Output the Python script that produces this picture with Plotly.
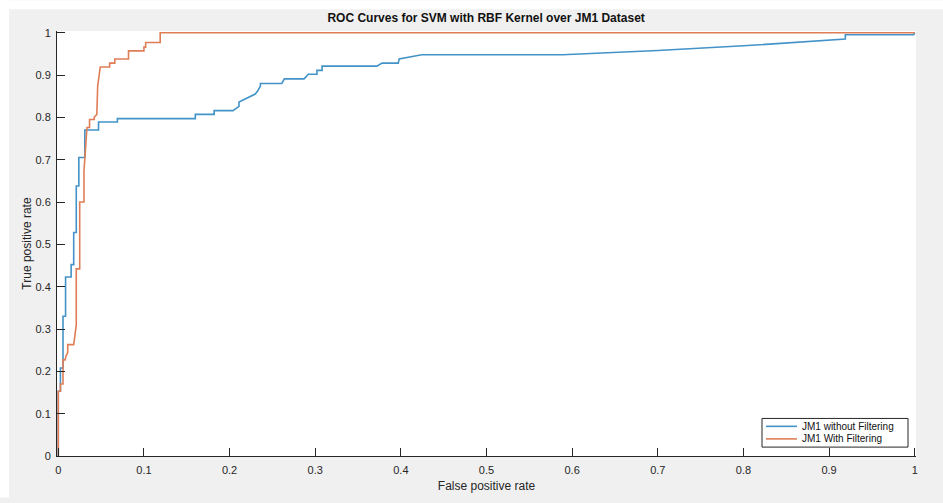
import plotly.graph_objects as go

# ROC curve of the SVM (RBF kernel) on JM1 without filtering
fpr_without = [0.0, 0.0, 0.0025, 0.0025, 0.0055, 0.0055, 0.0085, 0.0085, 0.015, 0.015,
               0.018, 0.018, 0.021, 0.021, 0.024, 0.024, 0.031, 0.031, 0.047, 0.047,
               0.069, 0.069, 0.160, 0.160, 0.182, 0.182, 0.204, 0.211, 0.211, 0.229,
               0.230, 0.233, 0.236, 0.236, 0.261, 0.264, 0.287, 0.292, 0.302, 0.302,
               0.308, 0.308, 0.372, 0.378, 0.397, 0.398, 0.4245, 0.589, 0.700, 0.800,
               0.919, 0.919, 0.9988, 1.0]
tpr_without = [0.0, 0.153, 0.153, 0.208, 0.208, 0.330, 0.330, 0.423, 0.423, 0.452,
               0.452, 0.528, 0.528, 0.638, 0.638, 0.705, 0.705, 0.770, 0.770, 0.789,
               0.789, 0.797, 0.797, 0.807, 0.807, 0.816, 0.816, 0.826, 0.836, 0.855,
               0.855, 0.863, 0.874, 0.880, 0.880, 0.891, 0.891, 0.902, 0.902, 0.911,
               0.911, 0.921, 0.921, 0.928, 0.928, 0.938, 0.948, 0.948, 0.958, 0.969,
               0.985, 0.995, 0.995, 1.0]

# ROC curve of the SVM (RBF kernel) on JM1 with filtering
fpr_with = [0.0, 0.0, 0.0025, 0.0025, 0.0055, 0.0055, 0.008, 0.009, 0.011, 0.011,
            0.018, 0.021, 0.021, 0.025, 0.025, 0.030, 0.030, 0.0325, 0.0335, 0.0335,
            0.0365, 0.0365, 0.042, 0.042, 0.045, 0.046, 0.049, 0.060, 0.060, 0.066,
            0.066, 0.082, 0.082, 0.100, 0.100, 0.102, 0.102, 0.119, 0.119, 1.0]
tpr_with = [0.0, 0.153, 0.153, 0.170, 0.170, 0.227, 0.227, 0.236, 0.245, 0.263,
            0.263, 0.309, 0.442, 0.442, 0.600, 0.600, 0.673, 0.758, 0.776, 0.776,
            0.776, 0.795, 0.795, 0.800, 0.807, 0.874, 0.919, 0.919, 0.928, 0.928,
            0.938, 0.938, 0.957, 0.957, 0.966, 0.966, 0.977, 0.977, 1.0, 1.0]

series_names = ["JM1 without Filtering", "JM1 With Filtering"]
series_colors = ["#4393c8", "#df7e56"]

tick_vals = [0, 0.1, 0.2, 0.3, 0.4, 0.5, 0.6, 0.7, 0.8, 0.9, 1]
tick_text = ["0", "0.1", "0.2", "0.3", "0.4", "0.5", "0.6", "0.7", "0.8", "0.9", "1"]

FONT = "Liberation Sans, Arial, sans-serif"
INK = "#262626"

# plot area in pixels (for placing the frame and the legend box)
W, H = 943, 503
L, R, T, B = 57, 27, 31, 42
PW, PH = W - L - R, H - T - B


def px_x(px):
    return (px - L) / PW


def px_y(py):
    return (H - B - py) / PH


fig = go.Figure()
for xs, ys, name, color in [(fpr_without, tpr_without, series_names[0], series_colors[0]),
                            (fpr_with, tpr_with, series_names[1], series_colors[1])]:
    fig.add_trace(go.Scatter(x=xs, y=ys, mode="lines", name=name,
                             line=dict(color=color, width=1.6), showlegend=False))

axis_common = dict(
    showgrid=False, zeroline=False, showline=True, linecolor=INK, linewidth=1,
    ticks="inside", ticklen=8, tickwidth=1, tickcolor=INK,
    tickvals=tick_vals, ticktext=tick_text,
    tickfont=dict(family=FONT, size=11, color=INK),
)

shapes = [
    # thin white frame around the grey figure window
    dict(type="rect", xref="paper", yref="paper", layer="above",
         x0=px_x(0), x1=px_x(9), y0=px_y(H), y1=px_y(0),
         fillcolor="white", line_width=0),
    dict(type="rect", xref="paper", yref="paper", layer="above",
         x0=px_x(0), x1=px_x(W), y0=px_y(9), y1=px_y(0),
         fillcolor="white", line_width=0),
    # legend box
    dict(type="rect", xref="paper", yref="paper", layer="above",
         x0=px_x(762), x1=px_x(908), y0=px_y(452), y1=px_y(423),
         fillcolor="white", line=dict(color=INK, width=1)),
]
annotations = []
for i, (name, color) in enumerate(zip(series_names, series_colors)):
    ly = 431 + i * 12.7
    shapes.append(dict(type="line", xref="paper", yref="paper", layer="above",
                       x0=px_x(766), x1=px_x(797), y0=px_y(ly), y1=px_y(ly),
                       line=dict(color=color, width=1.6)))
    annotations.append(dict(text=name, xref="paper", yref="paper",
                            x=px_x(800), y=px_y(ly), xanchor="left", yanchor="middle",
                            showarrow=False,
                            font=dict(family=FONT, size=10, color="#111111")))

fig.update_layout(
    width=W, height=H,
    margin=dict(l=L, r=R, t=T, b=B),
    paper_bgcolor="#f0f0f0",
    plot_bgcolor="white",
    showlegend=False,
    title=dict(text="<b>ROC Curves for SVM with RBF Kernel over JM1 Dataset</b>",
               x=0.5155, xanchor="center", y=0.965, yanchor="middle",
               font=dict(family=FONT, size=12, color="#111111")),
    xaxis=dict(range=[-0.0015, 1.0015], ticklabelstandoff=4,
               title=dict(text="False positive rate", standoff=6,
                          font=dict(family=FONT, size=12, color=INK)),
               **axis_common),
    yaxis=dict(range=[0, 1.004], ticklabelstandoff=3,
               title=dict(text="True positive rate", standoff=1,
                          font=dict(family=FONT, size=12, color=INK)),
               **axis_common),
    shapes=shapes,
    annotations=annotations,
)

fig.write_html("out.html")
